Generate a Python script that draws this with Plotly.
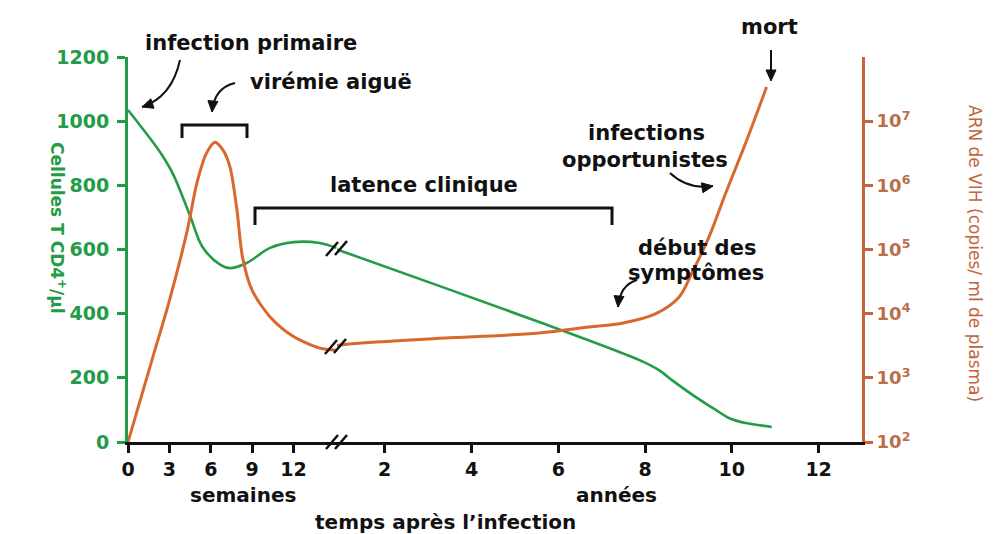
import plotly.graph_objects as go

# ---------------- data ----------------
# CD4 T cells (cells/µl) during the first weeks
cd4_weeks_t = [0, 1.8, 2.5, 3.3, 4.5, 5.4, 6.7, 7.4, 8.6, 10.3, 12.0, 13.9, 15.1]
cd4_weeks_v = [1035, 935, 892, 832, 705, 608, 552, 542, 558, 605, 623, 620, 605]
# CD4 T cells during the years
cd4_years_t = [0.9, 1.13, 5.56, 7.86, 8.32, 8.62, 9.17, 9.63, 9.93, 10.32, 10.92]
cd4_years_v = [600, 589, 374, 256, 224, 193, 140, 100, 75, 59, 47]
# HIV RNA (copies/ml plasma) during the first weeks
rna_weeks_t = [0, 1.8, 3.0, 4.3, 5.0, 5.7, 6.3, 6.9, 7.4, 7.9, 8.3, 9.0, 10.3, 12.0, 13.9, 15.1]
rna_weeks_v = [100, 2100, 1.6e4, 2.0e5, 1.1e6, 3.2e6, 4.7e6, 3.5e6, 1.9e6, 4.1e5, 7.6e4,
               2.3e4, 8.9e3, 4.4e3, 2.9e3, 2.7e3]
# HIV RNA during the years
rna_years_t = [0.9, 1.24, 3.5, 5.56, 6.71, 7.47, 8.25, 8.78, 9.08, 9.47, 9.86, 10.32, 10.8]
rna_years_v = [3.2e3, 3.4e3, 4.2e3, 5.0e3, 6.2e3, 7.1e3, 1.0e4, 1.8e4, 4.3e4, 1.55e5,
               7.6e5, 4.6e6, 3.4e7]

week_ticks = [0, 3, 6, 9, 12]
year_ticks = [2, 4, 6, 8, 10, 12]
cd4_ticks = [0, 200, 400, 600, 800, 1000, 1200]
rna_ticks = [1e2, 1e3, 1e4, 1e5, 1e6, 1e7]
rna_tick_text = ["10<sup>2</sup>", "10<sup>3</sup>", "10<sup>4</sup>", "10<sup>5</sup>",
                 "10<sup>6</sup>", "10<sup>7</sup>"]

# ---------------- style ----------------
GREEN = "#239b47"
ORANGE = "#d9682e"
ORANGE_AX = "#c8643c"
ORANGE_TXT = "#b86f4c"
FONT = "DejaVu Sans"

OFF = 8                      # page body margin
W, H = 993 - OFF, 534 - OFF
LEFT, RIGHT, TOP, BOTTOM = 128, 862, 57, 442   # plot area in reference pixels
ML, MT = LEFT - OFF, TOP - OFF
MR, MB = W - (RIGHT - OFF), H - (BOTTOM - OFF)
PW = RIGHT - LEFT
PH = BOTTOM - TOP
BREAK_PX = 337
D = (BREAK_PX - LEFT) / PW


def PX(x):
    return (x - LEFT) / PW


def PY(y):
    return (BOTTOM - y) / PH


fig = go.Figure()
fig.add_trace(go.Scatter(x=cd4_weeks_t, y=cd4_weeks_v, xaxis="x", yaxis="y", mode="lines",
                         line=dict(color=GREEN, width=2.6, shape="spline", smoothing=1.0),
                         hoverinfo="skip", showlegend=False))
fig.add_trace(go.Scatter(x=cd4_years_t, y=cd4_years_v, xaxis="x2", yaxis="y", mode="lines",
                         line=dict(color=GREEN, width=2.6, shape="spline", smoothing=0.8),
                         hoverinfo="skip", showlegend=False))
fig.add_trace(go.Scatter(x=rna_weeks_t, y=rna_weeks_v, xaxis="x", yaxis="y2", mode="lines",
                         line=dict(color=ORANGE, width=3, shape="spline", smoothing=0.8),
                         hoverinfo="skip", showlegend=False))
fig.add_trace(go.Scatter(x=rna_years_t, y=rna_years_v, xaxis="x2", yaxis="y2", mode="lines",
                         line=dict(color=ORANGE, width=3, shape="spline", smoothing=1.0),
                         hoverinfo="skip", showlegend=False))

tickfont_black = dict(family=FONT, size=19, color="#111111", weight="bold")

fig.update_layout(
    width=W, height=H,
    margin=dict(l=ML, r=MR, t=MT, b=MB, autoexpand=False),
    paper_bgcolor="white", plot_bgcolor="white",
    xaxis=dict(domain=[0, D], range=[0, 15.15], anchor="y", showgrid=False, zeroline=False,
               showline=True, linecolor="#111111", linewidth=2.5,
               ticks="outside", ticklen=8, tickwidth=2.5, tickcolor="#111111",
               tickvals=week_ticks, tickfont=tickfont_black),
    xaxis2=dict(domain=[D, 1], range=[0.9, 13.0], anchor="y", showgrid=False, zeroline=False,
                showline=True, linecolor="#111111", linewidth=2.5,
                ticks="outside", ticklen=8, tickwidth=2.5, tickcolor="#111111",
                tickvals=year_ticks, tickfont=tickfont_black),
    yaxis=dict(range=[0, 1200], anchor="x", showgrid=False, zeroline=False,
               showline=True, linecolor=GREEN, linewidth=3,
               ticks="outside", ticklen=8, tickwidth=2.5, tickcolor=GREEN,
               tickvals=cd4_ticks, ticklabelstandoff=4,
               tickfont=dict(family=FONT, size=19, color=GREEN, weight="bold")),
    yaxis2=dict(type="log", range=[2, 8], overlaying="y", side="right", anchor="x2",
                showgrid=False, zeroline=False, showline=True, linecolor=ORANGE_AX, linewidth=3,
                ticks="outside", ticklen=8, tickwidth=2.5, tickcolor=ORANGE_AX,
                tickvals=rna_ticks, ticktext=rna_tick_text,
                tickfont=dict(family=FONT, size=18, color=ORANGE_TXT, weight="bold")),
)

shapes = []
annotations = []


def text(x, y, s, size=21, color="#111111", angle=0, weight="bold"):
    annotations.append(dict(x=PX(x), y=PY(y), xref="paper", yref="paper", text=s,
                            showarrow=False, xanchor="center", yanchor="middle",
                            textangle=angle,
                            font=dict(family=FONT, size=size, color=color, weight=weight)))


def seg(x0, y0, x1, y1, color="#111111", width=2.5):
    shapes.append(dict(type="line", xref="paper", yref="paper",
                       x0=PX(x0), y0=PY(y0), x1=PX(x1), y1=PY(y1),
                       line=dict(color=color, width=width)))


def bracket(x0, x1, ytop, ybot):
    path = "M {a},{b} L {a},{c} L {d},{c} L {d},{b}".format(
        a=PX(x0), b=PY(ybot), c=PY(ytop), d=PX(x1))
    shapes.append(dict(type="path", xref="paper", yref="paper", path=path,
                       line=dict(color="#111111", width=3)))


def head(tx, ty, fx, fy, length=11, half=5):
    # filled triangle whose tip is (tx, ty), pointing away from (fx, fy)
    dx, dy = tx - fx, ty - fy
    n = (dx * dx + dy * dy) ** 0.5
    ux, uy = dx / n, dy / n
    bx, by = tx - ux * length, ty - uy * length
    p1 = (bx - uy * half, by + ux * half)
    p2 = (bx + uy * half, by - ux * half)
    path = "M {},{} L {},{} L {},{} Z".format(PX(tx), PY(ty), PX(p1[0]), PY(p1[1]),
                                               PX(p2[0]), PY(p2[1]))
    shapes.append(dict(type="path", xref="paper", yref="paper", path=path,
                       fillcolor="#111111", line=dict(color="#111111", width=1)))
    return bx, by


def curved_arrow(sx, sy, cx, cy, tx, ty):
    path = "M {},{} Q {},{} {},{}".format(PX(sx), PY(sy), PX(cx), PY(cy), PX(tx), PY(ty))
    shapes.append(dict(type="path", xref="paper", yref="paper", path=path,
                       line=dict(color="#111111", width=2)))
    head(tx, ty, cx, cy)


# labels
text(251, 43, "infection primaire")
text(331, 82, "virémie aiguë")
text(424, 185, "latence clinique")
text(646, 133, "infections")
text(645, 160, "opportunistes")
text(697, 248, "début des")
text(696, 273, "symptômes")
text(769, 27, "mort")
text(243, 495, "semaines", size=20)
text(616, 495, "années", size=20)
text(445, 522, "temps après l’infection", size=20)
text(58, 228, "Cellules T CD4<sup>+</sup>/µl", size=17, color=GREEN, angle=90)
text(975, 253, "ARN de VIH (copies/ ml de plasma)", size=17, color="#c0663a", angle=90,
     weight="normal")

# brackets
bracket(182, 247, 125, 138)
bracket(255, 612, 208, 225)

# arrows
curved_arrow(180, 60, 172, 97, 142, 107)
curved_arrow(235, 83, 214, 88, 212, 112)
curved_arrow(670, 173, 688, 190, 713, 186)
curved_arrow(637, 280, 620, 285, 618, 307)
seg(771, 50, 771, 72, width=2)
head(771, 81, 771, 50)

# break marks (axis and curves)
for cx, cy in [(332, 442), (341, 442), (332, 249), (341, 248), (331, 347), (340, 346)]:
    seg(cx - 6, cy + 7, cx + 6, cy - 7, width=2.5)

fig.update_layout(shapes=shapes, annotations=annotations)
fig.write_html("out.html")
